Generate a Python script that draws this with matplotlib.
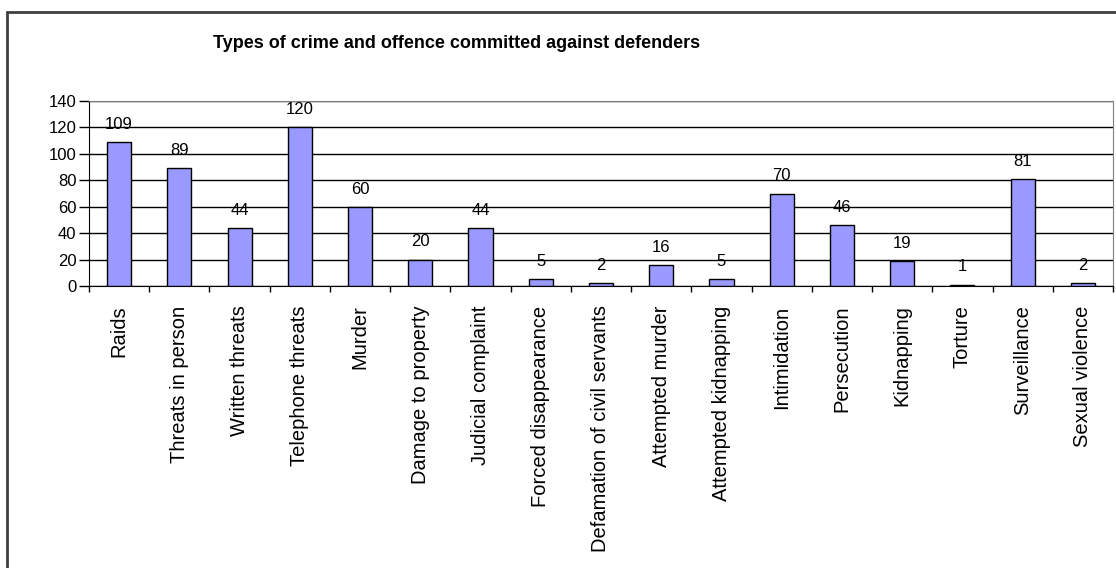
import matplotlib.pyplot as plt
from matplotlib.patches import Rectangle

categories = ["Raids", "Threats in person", "Written threats", "Telephone threats",
              "Murder", "Damage to property", "Judicial complaint",
              "Forced disappearance", "Defamation of civil servants",
              "Attempted murder", "Attempted kidnapping", "Intimidation",
              "Persecution", "Kidnapping", "Torture", "Surveillance",
              "Sexual violence"]
counts = [109, 89, 44, 120, 60, 20, 44, 5, 2, 16, 5, 70, 46, 19, 1, 81, 2]
y_ticks = [0, 20, 40, 60, 80, 100, 120, 140]

plt.rcParams['font.family'] = ['Liberation Sans', 'DejaVu Sans']

W, H = 1116, 568
fig = plt.figure(figsize=(W / 100, H / 100), dpi=100)

# outer chart frame (runs off the right and bottom edges)
fig.patches.append(Rectangle((7 / W, -0.1), 1.2, 1 - 12 / H + 0.1,
                             transform=fig.transFigure, fill=False,
                             edgecolor='#404040', linewidth=2))

fig.text(457 / W, 1 - 43 / H, "Types of crime and offence committed against defenders",
         ha='center', va='center', fontsize=13, fontweight='bold')

left, right, top, bottom = 89, 1113, 101, 286
ax = fig.add_axes([left / W, 1 - bottom / H, (right - left) / W, (bottom - top) / H])

x = range(len(categories))
ax.bar(x, counts, width=0.4, color='#9999FF', edgecolor='black', linewidth=1, zorder=3)
for xi, v in zip(x, counts):
    ax.text(xi, v + 10, str(v), ha='center', va='baseline', fontsize=12, clip_on=False)

ax.set_xlim(-0.5, len(categories) - 0.5)
ax.set_ylim(0, 140)
ax.set_yticks(y_ticks)
ax.tick_params(axis='y', labelsize=12, length=7, width=1, direction='out', pad=2)
ax.yaxis.grid(True, color='black', linewidth=1, zorder=0)
ax.set_axisbelow(True)

# category ticks sit between bars, labels at bar centres
ax.set_xticks([i - 0.5 for i in x] + [len(categories) - 0.5])
ax.set_xticklabels([])
ax.set_xticks(list(x), minor=True)
ax.set_xticklabels(categories, minor=True, rotation=90, fontsize=14.5, va='top')
ax.tick_params(axis='x', which='major', length=4, width=1, direction='out')
ax.tick_params(axis='x', which='minor', length=0, pad=14)

for side in ['top', 'right']:
    ax.spines[side].set_color('#808080')
ax.spines['left'].set_color('black')
ax.spines['bottom'].set_color('black')

fig.savefig('out.png', dpi=100)
